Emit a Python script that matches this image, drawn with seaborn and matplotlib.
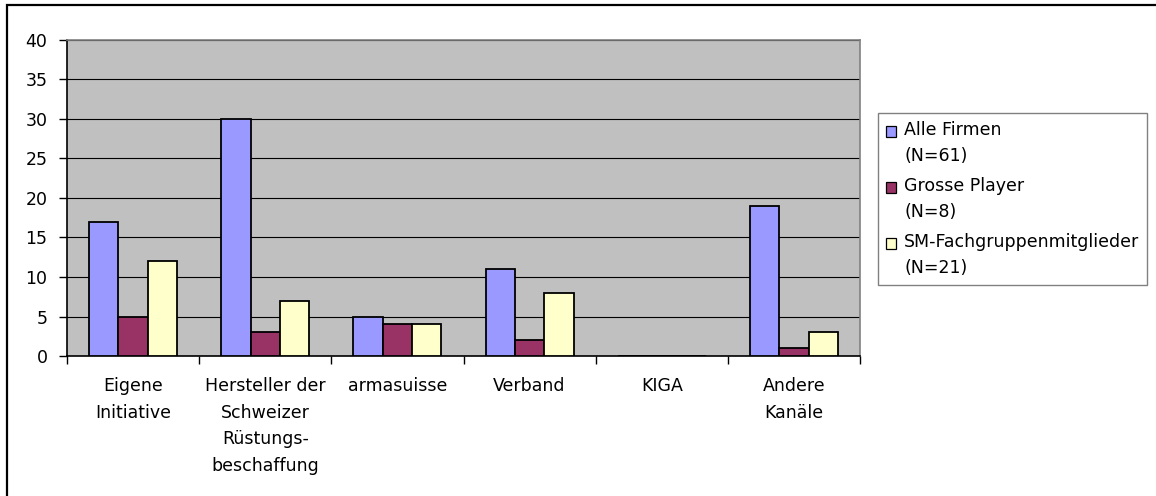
import matplotlib
matplotlib.use("Agg")
import matplotlib.pyplot as plt
import matplotlib.patches as mpatches
import seaborn as sns
import pandas as pd

# Survey data: how companies learned about procurement opportunities
categories = [
    "Eigene\nInitiative",
    "Hersteller der\nSchweizer\nRüstungs-\nbeschaffung",
    "armasuisse",
    "Verband",
    "KIGA",
    "Andere\nKanäle",
]
series = ["Alle Firmen\n(N=61)", "Grosse Player\n(N=8)", "SM-Fachgruppenmitglieder\n(N=21)"]
alle_firmen = [17, 30, 5, 11, 0, 19]
grosse_player = [5, 3, 4, 2, 0, 1]
sm_fachgruppe = [12, 7, 4, 8, 0, 3]
colors = ["#9999FF", "#993366", "#FFFFCC"]
y_ticks = [0, 5, 10, 15, 20, 25, 30, 35, 40]

df = pd.DataFrame({
    "Kanal": categories * 3,
    "Gruppe": [series[0]] * 6 + [series[1]] * 6 + [series[2]] * 6,
    "Anzahl": alle_firmen + grosse_player + sm_fachgruppe,
})

sns.set_theme(style="white")
plt.rcParams["font.family"] = ["DejaVu Sans"]
plt.rcParams["text.color"] = "black"
plt.rcParams["xtick.color"] = "black"
plt.rcParams["ytick.color"] = "black"
FS = 12.5

W, H = 1156, 496
fig = plt.figure(figsize=(W / 100, H / 100), dpi=100)
fig.patch.set_facecolor("white")

ax = fig.add_axes([67 / W, (H - 356) / H, (860 - 67) / W, (356 - 40) / H])
ax.set_facecolor("#C0C0C0")

sns.barplot(
    data=df, x="Kanal", y="Anzahl", hue="Gruppe", order=categories,
    hue_order=series, palette=colors, saturation=1, width=2 / 3,
    edgecolor="black", linewidth=1.3, ax=ax, zorder=3,
)

ax.set_ylim(0, 40)
ax.set_xlim(-0.5, len(categories) - 0.5)
ax.set_yticks(y_ticks)
ax.yaxis.grid(True, color="black", linewidth=0.8, zorder=0)
ax.set_axisbelow(True)
ax.set_xlabel("")
ax.set_ylabel("")

# Category labels sit between boundary ticks
ax.set_xticks([i - 0.5 for i in range(len(categories) + 1)])
ax.set_xticklabels([])
ax.set_xticks(range(len(categories)), minor=True)
ax.set_xticklabels(categories, minor=True, fontsize=FS, color="black",
                   linespacing=1.62, ha="center", va="top")
ax.tick_params(axis="x", which="major", direction="out", length=6, width=1,
               color="black", bottom=True)
ax.tick_params(axis="x", which="minor", length=0, pad=15)
ax.tick_params(axis="y", direction="out", length=6, width=1, color="black",
               left=True, labelsize=FS, labelcolor="black", pad=8)

for side in ["left", "bottom"]:
    ax.spines[side].set_color("black")
    ax.spines[side].set_linewidth(1.2)
for side in ["top", "right"]:
    ax.spines[side].set_color("#808080")
    ax.spines[side].set_linewidth(1.2)
    ax.spines[side].set_visible(True)

# Legend on the right
if ax.get_legend() is not None:
    ax.get_legend().remove()
handles = [mpatches.Patch(facecolor=c, edgecolor="black", linewidth=0.9) for c in colors]
leg = fig.legend(
    handles, series, loc="upper left",
    bbox_to_anchor=(878 / W, 1 - 113 / H), bbox_transform=fig.transFigure,
    fontsize=FS, frameon=True, fancybox=False, edgecolor="#606060",
    handlelength=0.6, handleheight=0.6, handletextpad=0.45,
    labelspacing=0.72, borderpad=0.45, borderaxespad=0,
)
leg.get_frame().set_linewidth(1.0)
for t in leg.get_texts():
    t.set_color("black")
    t.set_linespacing(1.55)
# Put each swatch next to the first line of its two-line label
for h in leg.legend_handles:
    h.set_y(h.get_y() + 9.0)

# Outer chart border
border = mpatches.Rectangle((7 / W, -0.1), 1.2, 1 - 5 / H + 0.1,
                            transform=fig.transFigure, fill=False,
                            edgecolor="black", linewidth=1.6, zorder=10)
fig.patches.append(border)

fig.savefig("out.png", dpi=100, facecolor="white")
